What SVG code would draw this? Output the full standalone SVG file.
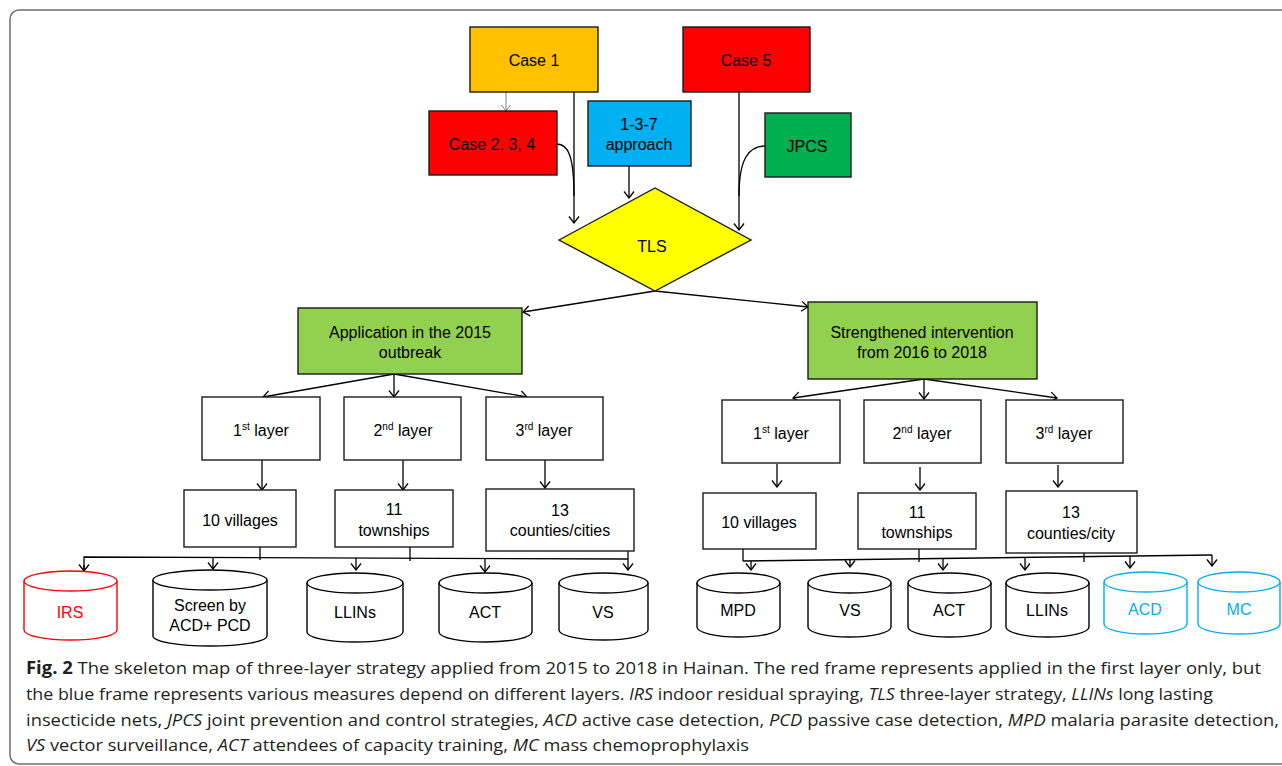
<svg xmlns="http://www.w3.org/2000/svg" width="1282" height="766" viewBox="0 0 1282 766">
<defs>
<marker id="ah" viewBox="-8 -6 9 12" markerWidth="9" markerHeight="12" markerUnits="userSpaceOnUse" refX="0" refY="0" orient="auto">
<path d="M-6.5,-5 L0,0 L-6.5,5" fill="none" stroke="#000" stroke-width="1.3"/>
</marker>
<marker id="ahg" viewBox="-8 -6 9 12" markerWidth="9" markerHeight="12" markerUnits="userSpaceOnUse" refX="0" refY="0" orient="auto">
<path d="M-6,-4.5 L0,0 L-6,4.5" fill="none" stroke="#808080" stroke-width="1"/>
</marker>
<style>
.box{stroke:#1a1a1a;stroke-width:1.4}
.t{font-family:"Liberation Sans",Arial,sans-serif;font-size:16px;fill:#000;text-anchor:middle}
.c{stroke:#000;stroke-width:1.3;fill:none}
.cyl{fill:#fff;stroke:#000;stroke-width:1.4}
.red{stroke:#ff0000}
.blue{stroke:#00b0f0}
.cap{font-family:"Open Sans","Noto Sans",sans-serif;font-size:17px;fill:#231f20}
</style>
</defs>
<rect x="10" y="10" width="1300" height="754" rx="9" fill="none" stroke="#6e6e6e" stroke-width="1.5"/>

<g id="connectors">
<line x1="506" y1="92" x2="506" y2="111" stroke="#808080" stroke-width="1" marker-end="url(#ahg)"/>
<line class="c" x1="574" y1="92" x2="574" y2="223" marker-end="url(#ah)"/>
<path class="c" d="M557,144 C568,144 574,156 574,196"/>
<line class="c" x1="629" y1="166" x2="629" y2="198" marker-end="url(#ah)"/>
<line class="c" x1="739" y1="92" x2="739" y2="230" marker-end="url(#ah)"/>
<path class="c" d="M765,146 C748,146 739,160 739,196"/>
<line class="c" x1="655" y1="291" x2="523" y2="312" marker-end="url(#ah)"/>
<line class="c" x1="655" y1="291" x2="808" y2="307" marker-end="url(#ah)"/>
<line class="c" x1="394" y1="374" x2="263" y2="397" marker-end="url(#ah)"/>
<line class="c" x1="394" y1="374" x2="394" y2="397" marker-end="url(#ah)"/>
<line class="c" x1="394" y1="374" x2="527" y2="397" marker-end="url(#ah)"/>
<line class="c" x1="924" y1="379" x2="793" y2="398" marker-end="url(#ah)"/>
<line class="c" x1="924" y1="379" x2="924" y2="399" marker-end="url(#ah)"/>
<line class="c" x1="924" y1="379" x2="1057" y2="398" marker-end="url(#ah)"/>
<line class="c" x1="262" y1="460" x2="262" y2="490" marker-end="url(#ah)"/>
<line class="c" x1="403" y1="460" x2="403" y2="490" marker-end="url(#ah)"/>
<line class="c" x1="545" y1="460" x2="545" y2="488" marker-end="url(#ah)"/>
<line class="c" x1="777" y1="464" x2="777" y2="487" marker-end="url(#ah)"/>
<line class="c" x1="920" y1="467" x2="920" y2="490" marker-end="url(#ah)"/>
<line class="c" x1="1058" y1="465" x2="1058" y2="487" marker-end="url(#ah)"/>
<!-- left bus -->
<path class="c" d="M84,571 V557 L628,559"/>
<line class="c" x1="84" y1="565" x2="84" y2="571" marker-end="url(#ah)"/>
<line class="c" x1="260" y1="547" x2="260" y2="560"/>
<line class="c" x1="410" y1="547" x2="410" y2="561"/>
<line class="c" x1="628" y1="551" x2="628" y2="570" marker-end="url(#ah)"/>
<line class="c" x1="213" y1="557.5" x2="213" y2="569" marker-end="url(#ah)"/>
<line class="c" x1="356" y1="558" x2="356" y2="570" marker-end="url(#ah)"/>
<line class="c" x1="485" y1="558.5" x2="485" y2="572" marker-end="url(#ah)"/>
<!-- right bus -->
<line class="c" x1="743" y1="561" x2="1212" y2="555"/>
<line class="c" x1="743" y1="549" x2="743" y2="561"/>
<line class="c" x1="919" y1="549" x2="919" y2="562"/>
<line class="c" x1="1084" y1="553" x2="1084" y2="562"/>
<line class="c" x1="751" y1="561" x2="751" y2="570" marker-end="url(#ah)"/>
<line class="c" x1="850" y1="559.6" x2="850" y2="567" marker-end="url(#ah)"/>
<line class="c" x1="943" y1="558.4" x2="943" y2="570" marker-end="url(#ah)"/>
<line class="c" x1="1025" y1="557.4" x2="1025" y2="570" marker-end="url(#ah)"/>
<line class="c" x1="1130" y1="556" x2="1130" y2="568" marker-end="url(#ah)"/>
<line class="c" x1="1212" y1="555" x2="1212" y2="566" marker-end="url(#ah)"/>
</g>

<g id="case1"><rect class="box" x="470" y="27" width="128" height="65" fill="#ffc000"/><text class="t" x="534" y="66">Case 1</text></g>
<g id="case5"><rect class="box" x="683" y="27" width="127" height="65" fill="#ff0000"/><text class="t" x="746" y="66">Case 5</text></g>
<g id="case234"><rect class="box" x="429" y="111" width="128" height="64" fill="#ff0000"/><text class="t" x="492" y="150">Case 2, 3, 4</text></g>
<g id="approach"><rect class="box" x="588" y="101" width="103" height="65" fill="#00b0f0"/><text class="t" x="639" y="130">1-3-7</text><text class="t" x="639" y="150">approach</text></g>
<g id="jpcs"><rect class="box" x="765" y="113" width="86" height="64" fill="#00b050"/><text class="t" x="807" y="152">JPCS</text></g>
<g id="tls"><polygon class="box" points="559,240 655,188 751,240 655,291" fill="#ffff00"/><text class="t" x="652" y="252">TLS</text></g>

<g id="app2015"><rect class="box" x="298" y="308" width="224" height="66" fill="#92d050"/><text class="t" x="410" y="338">Application in the 2015</text><text class="t" x="410" y="358">outbreak</text></g>
<g id="strength"><rect class="box" x="808" y="302" width="229" height="77" fill="#92d050"/><text class="t" x="922" y="338">Strengthened intervention</text><text class="t" x="922" y="358">from 2016 to 2018</text></g>

<g id="l1a"><rect class="box" x="202" y="397" width="118" height="63" fill="#fff"/><text class="t" x="261" y="436">1<tspan font-size="10" dy="-6">st</tspan><tspan dy="6"> layer</tspan></text></g>
<g id="l2a"><rect class="box" x="344" y="397" width="117" height="63" fill="#fff"/><text class="t" x="403" y="436">2<tspan font-size="10" dy="-6">nd</tspan><tspan dy="6"> layer</tspan></text></g>
<g id="l3a"><rect class="box" x="486" y="397" width="117" height="63" fill="#fff"/><text class="t" x="544" y="436">3<tspan font-size="10" dy="-6">rd</tspan><tspan dy="6"> layer</tspan></text></g>
<g id="vila"><rect class="box" x="184" y="490" width="112" height="57" fill="#fff"/><text class="t" x="240" y="526">10 villages</text></g>
<g id="towa"><rect class="box" x="335" y="490" width="118" height="57" fill="#fff"/><text class="t" x="394" y="515">11</text><text class="t" x="394" y="536">townships</text></g>
<g id="couA"><rect class="box" x="486" y="489" width="148" height="62" fill="#fff"/><text class="t" x="560" y="516">13</text><text class="t" x="560" y="536">counties/cities</text></g>

<g id="l1b"><rect class="box" x="722" y="400" width="118" height="63" fill="#fff"/><text class="t" x="781" y="439">1<tspan font-size="10" dy="-6">st</tspan><tspan dy="6"> layer</tspan></text></g>
<g id="l2b"><rect class="box" x="864" y="400" width="117" height="63" fill="#fff"/><text class="t" x="922" y="439">2<tspan font-size="10" dy="-6">nd</tspan><tspan dy="6"> layer</tspan></text></g>
<g id="l3b"><rect class="box" x="1006" y="400" width="117" height="63" fill="#fff"/><text class="t" x="1064" y="439">3<tspan font-size="10" dy="-6">rd</tspan><tspan dy="6"> layer</tspan></text></g>
<g id="vilb"><rect class="box" x="703" y="493" width="113" height="56" fill="#fff"/><text class="t" x="759" y="528">10 villages</text></g>
<g id="towb"><rect class="box" x="858" y="493" width="118" height="56" fill="#fff"/><text class="t" x="917" y="518">11</text><text class="t" x="917" y="538">townships</text></g>
<g id="coub"><rect class="box" x="1006" y="491" width="131" height="62" fill="#fff"/><text class="t" x="1071" y="518">13</text><text class="t" x="1071" y="539">counties/city</text></g>

<g id="irs"><path class="cyl red" d="M24,581 V630 A46.5,10 0 0 0 117,630 V581"/><ellipse class="cyl red" cx="70.5" cy="581" rx="46.5" ry="10"/><text class="t" x="70" y="618" fill="#ff0000" style="fill:#ff0000">IRS</text></g>
<g id="screen"><path class="cyl" d="M153,580 V636 A57,10 0 0 0 267,636 V580"/><ellipse class="cyl" cx="210" cy="580" rx="57" ry="10"/><text class="t" x="210" y="611">Screen by</text><text class="t" x="210" y="631">ACD+ PCD</text></g>
<g id="llinsa"><path class="cyl" d="M307,583 V632 A48,10 0 0 0 403,632 V583"/><ellipse class="cyl" cx="355" cy="583" rx="48" ry="10"/><text class="t" x="355" y="618">LLINs</text></g>
<g id="acta"><path class="cyl" d="M439,583 V632 A46.5,10 0 0 0 532,632 V583"/><ellipse class="cyl" cx="485.5" cy="583" rx="46.5" ry="10"/><text class="t" x="485" y="618">ACT</text></g>
<g id="vsa"><path class="cyl" d="M559,583 V630 A44.5,10 0 0 0 648,630 V583"/><ellipse class="cyl" cx="603.5" cy="583" rx="44.5" ry="10"/><text class="t" x="603" y="618">VS</text></g>

<g id="mpd"><path class="cyl" d="M697,583 V627 A41.5,10 0 0 0 780,627 V583"/><ellipse class="cyl" cx="738.5" cy="583" rx="41.5" ry="10"/><text class="t" x="738" y="616">MPD</text></g>
<g id="vsb"><path class="cyl" d="M808,583 V627 A41.5,10 0 0 0 891,627 V583"/><ellipse class="cyl" cx="849.5" cy="583" rx="41.5" ry="10"/><text class="t" x="850" y="616">VS</text></g>
<g id="actb"><path class="cyl" d="M908,583 V627 A41.5,10 0 0 0 991,627 V583"/><ellipse class="cyl" cx="949.5" cy="583" rx="41.5" ry="10"/><text class="t" x="949" y="616">ACT</text></g>
<g id="llinsb"><path class="cyl" d="M1006,583 V627 A41.5,10 0 0 0 1089,627 V583"/><ellipse class="cyl" cx="1047.5" cy="583" rx="41.5" ry="10"/><text class="t" x="1047" y="616">LLINs</text></g>
<g id="acd"><path class="cyl blue" d="M1104,582 V624 A41.5,10 0 0 0 1187,624 V582"/><ellipse class="cyl blue" cx="1145.5" cy="582" rx="41.5" ry="10"/><text class="t" x="1145" y="615" style="fill:#00b0f0">ACD</text></g>
<g id="mc"><path class="cyl blue" d="M1198,582 V624 A41,10 0 0 0 1280,624 V582"/><ellipse class="cyl blue" cx="1239" cy="582" rx="41" ry="10"/><text class="t" x="1239" y="615" style="fill:#00b0f0">MC</text></g>

<g id="caption">
<text class="cap" x="26" y="674" textLength="1235" lengthAdjust="spacingAndGlyphs"><tspan font-weight="bold">Fig. 2</tspan>  The skeleton map of three-layer strategy applied from 2015 to 2018 in Hainan. The red frame represents applied in the first layer only, but</text>
<text class="cap" x="26" y="700" textLength="1187" lengthAdjust="spacingAndGlyphs">the blue frame represents various measures depend on different layers. <tspan font-style="italic">IRS</tspan> indoor residual spraying, <tspan font-style="italic">TLS</tspan> three-layer strategy, <tspan font-style="italic">LLINs</tspan> long lasting</text>
<text class="cap" x="26" y="726" textLength="1253" lengthAdjust="spacingAndGlyphs">insecticide nets, <tspan font-style="italic">JPCS</tspan> joint prevention and control strategies, <tspan font-style="italic">ACD</tspan> active case detection, <tspan font-style="italic">PCD</tspan> passive case detection, <tspan font-style="italic">MPD</tspan> malaria parasite detection,</text>
<text class="cap" x="26" y="751" textLength="723" lengthAdjust="spacingAndGlyphs"><tspan font-style="italic">VS</tspan> vector surveillance, <tspan font-style="italic">ACT</tspan> attendees of capacity training, <tspan font-style="italic">MC</tspan> mass chemoprophylaxis</text>
</g>
</svg>
